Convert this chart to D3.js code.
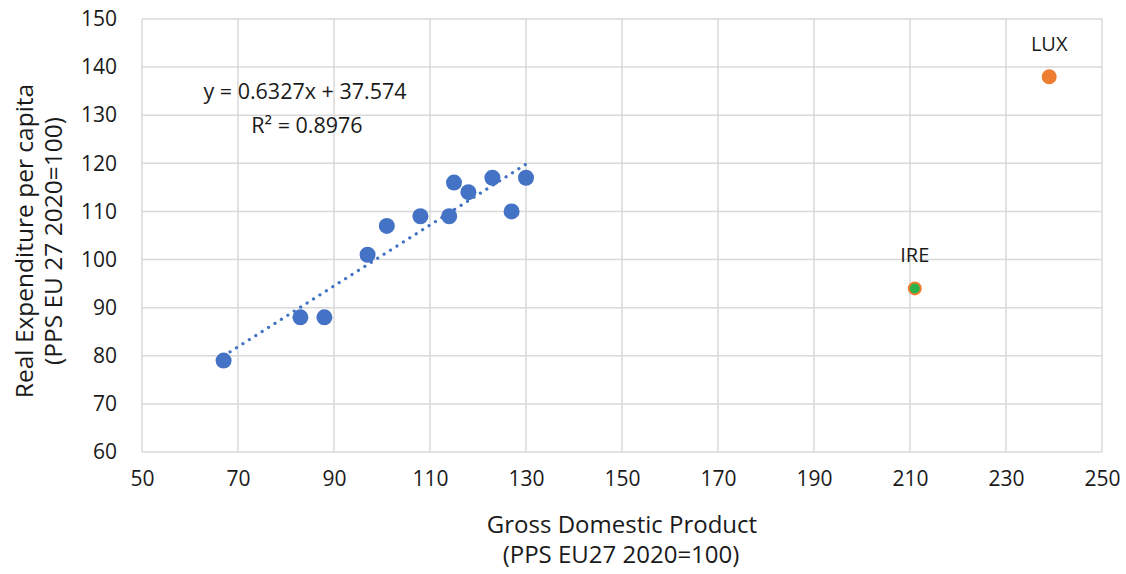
<!DOCTYPE html>
<html>
<head>
<meta charset="utf-8">
<script src="https://cdn.jsdelivr.net/npm/d3@7"></script>
<style>
  html, body { margin: 0; padding: 0; background: #fff; }
  svg text { font-family: "Open Sans", "Noto Sans", sans-serif; fill: #1a1a1a; }
</style>
</head>
<body>
<svg id="chart" width="1126" height="574"></svg>
<script>
// Countries: GDP per capita vs real expenditure per capita (PPS, EU27 2020=100)
const gdp = [67, 83, 88, 97, 101, 108, 114, 115, 118, 123, 127, 130];
const expenditure = [79, 88, 88, 101, 107, 109, 109, 116, 114, 117, 110, 117];
const outlierNames = ["IRE", "LUX"];
const outlierGdp = [211, 239];
const outlierExpenditure = [94, 138];
const xTicks = [50, 70, 90, 110, 130, 150, 170, 190, 210, 230, 250];
const yTicks = [60, 70, 80, 90, 100, 110, 120, 130, 140, 150];
const slope = 0.6327, intercept = 37.574, r2 = 0.8976;

const svg = d3.select("#chart");
const m = { left: 142, right: 1102, top: 19, bottom: 452 };

const x = d3.scaleLinear().domain([50, 250]).range([m.left, m.right]);
const y = d3.scaleLinear().domain([60, 150]).range([m.bottom, m.top]);

// Grid
const grid = svg.append("g").attr("stroke", "#d9d9d9").attr("stroke-width", 1.5);
grid.selectAll(".gx").data(xTicks).join("line")
  .attr("x1", d => x(d)).attr("x2", d => x(d))
  .attr("y1", m.top).attr("y2", m.bottom);
grid.selectAll(".gy").data(yTicks).join("line")
  .attr("x1", m.left).attr("x2", m.right)
  .attr("y1", d => y(d)).attr("y2", d => y(d));

// Axes (labels only, no tick marks)
const xAxis = svg.append("g")
  .attr("transform", `translate(0,${m.bottom})`)
  .call(d3.axisBottom(x).tickValues(xTicks).tickSize(0).tickPadding(19));
const yAxis = svg.append("g")
  .attr("transform", `translate(${m.left},0)`)
  .call(d3.axisLeft(y).tickValues(yTicks).tickSize(0).tickPadding(25));
[xAxis, yAxis].forEach(a => {
  a.select(".domain").remove();
  a.selectAll("text").style("font-size", "21px").attr("fill", "#1a1a1a");
});

// Trend line (linear fit over the main group)
const [x0, x1] = d3.extent(gdp);
svg.append("line")
  .attr("x1", x(x0)).attr("y1", y(slope * x0 + intercept))
  .attr("x2", x(x1)).attr("y2", y(slope * x1 + intercept))
  .attr("stroke", "#4472C4").attr("stroke-width", 3.2)
  .attr("stroke-linecap", "round").attr("stroke-dasharray", "0.1 7.5");

// Main group points
svg.append("g").selectAll("circle").data(gdp).join("circle")
  .attr("cx", d => x(d))
  .attr("cy", (d, i) => y(expenditure[i]))
  .attr("r", 8)
  .attr("fill", "#4472C4");

// Outliers
svg.append("circle")
  .attr("cx", x(outlierGdp[0])).attr("cy", y(outlierExpenditure[0]))
  .attr("r", 6).attr("fill", "#2BB34B")
  .attr("stroke", "#ED7D31").attr("stroke-width", 2);
svg.append("circle")
  .attr("cx", x(outlierGdp[1])).attr("cy", y(outlierExpenditure[1]))
  .attr("r", 7.5).attr("fill", "#ED7D31");

svg.append("g").selectAll("text").data(outlierNames).join("text")
  .attr("x", (d, i) => x(outlierGdp[i]))
  .attr("y", (d, i) => y(outlierExpenditure[i]) - 26)
  .attr("text-anchor", "middle")
  .style("font-size", "20px")
  .text(d => d);

// Regression equation
svg.append("text").attr("x", 305).attr("y", 99)
  .attr("text-anchor", "middle").style("font-size", "21.5px")
  .text(`y = ${slope}x + ${intercept}`);
svg.append("text").attr("x", 307).attr("y", 133)
  .attr("text-anchor", "middle").style("font-size", "21.5px")
  .text(`R² = ${r2}`);

// Axis titles
const yTitle = svg.append("text")
  .attr("transform", "translate(0,241) rotate(-90)")
  .attr("text-anchor", "middle").style("font-size", "24.5px");
yTitle.append("tspan").attr("x", 0).attr("y", 33).text("Real Expenditure per capita");
yTitle.append("tspan").attr("x", 0).attr("y", 62).text("(PPS EU 27 2020=100)");

svg.append("text").attr("x", 622).attr("y", 533)
  .attr("text-anchor", "middle").style("font-size", "24px")
  .text("Gross Domestic Product");
svg.append("text").attr("x", 621).attr("y", 563)
  .attr("text-anchor", "middle").style("font-size", "24px")
  .text("(PPS EU27 2020=100)");
</script>
</body>
</html>
